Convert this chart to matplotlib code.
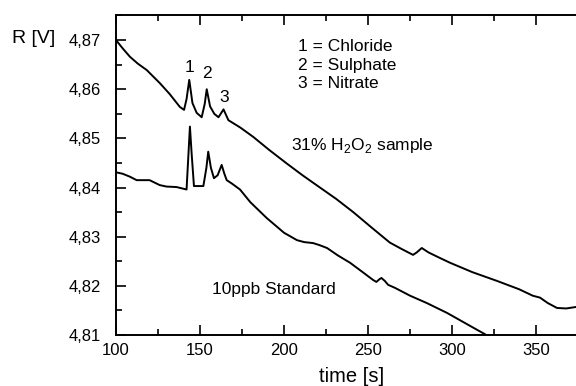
import matplotlib
matplotlib.use("Agg")
import matplotlib.pyplot as plt
from matplotlib.ticker import MultipleLocator, FuncFormatter

plt.rcParams['font.family'] = ['Liberation Sans', 'DejaVu Sans']
plt.rcParams['mathtext.fontset'] = 'custom'
plt.rcParams['mathtext.rm'] = 'Liberation Sans'

# 31% H2O2 sample trace
sample_t = [100, 104, 108.3, 113, 118.3, 126.2, 132, 138, 140.5, 142, 143.6, 145.5,
            148, 151, 152.8, 154, 156, 158.5, 161, 164, 166.9, 174, 181.7, 191,
            201.6, 211, 221.4, 231, 241.2, 252, 263, 270, 276.8, 279, 282, 286, 292,
            298.8, 312, 326.8, 340, 348, 352.4, 357, 362.5, 368, 373.8]
sample_v = [4.8700, 4.8683, 4.8666, 4.8652, 4.8639, 4.8612, 4.8590, 4.8564, 4.8558,
            4.8580, 4.8619, 4.8572, 4.8552, 4.8543, 4.8570, 4.8600, 4.8565, 4.8550,
            4.8543, 4.8559, 4.8537, 4.8522, 4.8503, 4.8477, 4.8449, 4.8425, 4.8400,
            4.8377, 4.8350, 4.8319, 4.8288, 4.8275, 4.8263, 4.8268, 4.8277, 4.8268,
            4.8258, 4.8247, 4.8228, 4.8210, 4.8193, 4.8180, 4.8176, 4.8165, 4.8155,
            4.8154, 4.8157]

# 10ppb standard trace
std_t = [100, 104, 108.3, 112.3, 120, 126, 130, 136, 142, 143, 144, 145, 146.4, 149,
         152, 153.8, 154.9, 156.5, 158.3, 160.5, 162.9, 164.5, 165.9, 169, 173.8, 180,
         189.7, 200, 207.7, 212, 217.3, 221, 225.6, 232, 239.3, 246, 253, 255, 257,
         258, 260, 262, 266, 275, 285, 297, 310, 322]
std_v = [4.8431, 4.8428, 4.8422, 4.8415, 4.8415, 4.8405, 4.8402, 4.8401, 4.8396,
         4.8460, 4.8524, 4.8470, 4.8403, 4.8403, 4.8403, 4.8440, 4.8473, 4.8440,
         4.8419, 4.8425, 4.8446, 4.8428, 4.8415, 4.8408, 4.8396, 4.8370, 4.8338,
         4.8308, 4.8293, 4.8289, 4.8287, 4.8283, 4.8277, 4.8262, 4.8247, 4.8230,
         4.8212, 4.8208, 4.8214, 4.8216, 4.8210, 4.8202, 4.8196, 4.8180, 4.8165,
         4.8145, 4.8120, 4.8097]

peak_labels = ["1", "2", "3"]
peak_t = [143.5, 154.2, 164.3]
peak_v = [4.8645, 4.8631, 4.8584]
legend_lines = ["1 = Chloride", "2 = Sulphate", "3 = Nitrate"]

fig = plt.figure(figsize=(5.76, 3.86), dpi=100)
ax = fig.add_axes([116 / 576, 51 / 386, 1 - 116 / 576, (335 - 15) / 386])

ax.plot(sample_t, sample_v, color='black', lw=1.4)
ax.plot(std_t, std_v, color='black', lw=1.4)

ax.set_xlim(100, 373.8)
ax.set_ylim(4.81, 4.8751)

ax.xaxis.set_major_locator(MultipleLocator(50))
ax.xaxis.set_minor_locator(MultipleLocator(25))
ax.yaxis.set_major_locator(MultipleLocator(0.01))
ax.yaxis.set_minor_locator(MultipleLocator(0.005))
ax.yaxis.set_major_formatter(FuncFormatter(lambda v, p: f"{v:.2f}".replace('.', ',')))

ax.tick_params(which='both', direction='in', top=True, right=False, width=1.2,
               labelsize=12)
ax.tick_params(axis='y', pad=11)
ax.tick_params(axis='x', pad=6)
ax.tick_params(which='major', length=7)
ax.tick_params(which='minor', length=4)
ax.spines['right'].set_visible(False)
for s in ['left', 'bottom', 'top']:
    ax.spines[s].set_linewidth(1.4)

for lab, t, v in zip(peak_labels, peak_t, peak_v):
    ax.text(t, v, lab, ha='center', va='center', fontsize=12.5)

for i, line in enumerate(legend_lines):
    ax.text(208.3, 4.8686 - i * 0.00368, line, ha='left', va='center', fontsize=12.5)

ax.text(204.2, 4.8485, r'31% H$_\mathregular{2}$O$_\mathregular{2}$ sample',
        ha='left', va='center', fontsize=12.5)
ax.text(157, 4.8192, '10ppb Standard', ha='left', va='center', fontsize=12.5)

fig.text(12 / 576, 1 - 38.5 / 386, 'R [V]', ha='left', va='center', fontsize=14)
fig.text(352 / 576, 1 - 376 / 386, 'time [s]', ha='center', va='center', fontsize=14.5)

fig.savefig('out.png', dpi=100)
